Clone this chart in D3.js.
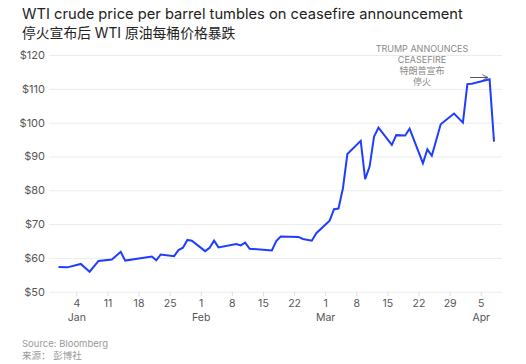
<!DOCTYPE html>
<html><head><meta charset="utf-8">
<script src="https://cdn.jsdelivr.net/npm/d3@7"></script>
<style>
body{margin:0;background:#fff;}
svg{display:block;font-family:Inter,"Noto Sans CJK SC",sans-serif;}
</style></head>
<body><svg id="c" width="526" height="364"></svg>
<script>
const dates = ["2025-12-31","2026-01-02","2026-01-05","2026-01-07","2026-01-09","2026-01-12","2026-01-14","2026-01-15","2026-01-21","2026-01-22","2026-01-23","2026-01-26","2026-01-27","2026-01-28","2026-01-29","2026-01-30","2026-02-02","2026-02-03","2026-02-04","2026-02-05","2026-02-09","2026-02-10","2026-02-11","2026-02-12","2026-02-17","2026-02-18","2026-02-19","2026-02-23","2026-02-24","2026-02-26","2026-02-27","2026-03-02","2026-03-03","2026-03-04","2026-03-05","2026-03-06","2026-03-09","2026-03-10","2026-03-11","2026-03-12","2026-03-13","2026-03-16","2026-03-17","2026-03-19","2026-03-20","2026-03-23","2026-03-24","2026-03-25","2026-03-27","2026-03-30","2026-04-01","2026-04-02","2026-04-03","2026-04-07","2026-04-08"];
const prices = [57.3,57.2,58.2,55.9,59.1,59.5,61.8,59.2,60.4,59.3,61.0,60.5,62.3,63.0,65.3,65.1,62.0,63.0,65.1,63.1,64.1,63.7,64.5,62.7,62.2,65.0,66.3,66.2,65.6,65.1,67.3,71.0,74.4,74.6,80.6,90.7,94.6,83.3,87.0,95.9,98.5,93.4,96.3,96.2,98.2,88.0,92.1,90.2,99.5,102.7,100.0,111.4,111.5,112.8,94.4];
const yTicks = [50,60,70,80,90,100,110,120];
const xTickDates = ["2026-01-04","2026-01-11","2026-01-18","2026-01-25","2026-02-01","2026-02-08","2026-02-15","2026-02-22","2026-03-01","2026-03-08","2026-03-15","2026-03-22","2026-03-29","2026-04-05"];
const monthLabels = {"2026-01-04":"Jan","2026-02-01":"Feb","2026-03-01":"Mar","2026-04-05":"Apr"};
const titleLines = ["WTI crude price per barrel tumbles on ceasefire announcement","停火宣布后 WTI 原油每桶价格暴跌"];
const annotation = ["TRUMP ANNOUNCES","CEASEFIRE","特朗普宣布","停火"];
const sourceLines = ["Source: Bloomberg","来源： 彭博社"];

const parse = d3.utcParse("%Y-%m-%d");
const data = dates.map((d,i)=>({date:parse(d), v:prices[i]}));
const svg = d3.select("#c");

const x = d3.scaleUtc().domain([parse("2026-01-04"), parse("2026-04-05")]).range([76.3, 480.7]);
const y = d3.scaleLinear().domain([50,120]).range([291.7, 55]);

// title
svg.append("g").selectAll("text").data(titleLines).join("text")
  .attr("x",22).attr("y",(d,i)=>19+i*19)
  .attr("font-size",(d,i)=>i===0?14.7:13.8).attr("fill","#222")
  .text(d=>d);

// grid
const gy = svg.append("g").attr("transform","translate(49,0)")
  .call(d3.axisLeft(y).tickValues(yTicks).tickSize(-453).tickFormat(d=>"$"+d).tickPadding(4));
gy.select(".domain").remove();
gy.selectAll(".tick line").attr("stroke","#ebebeb").attr("stroke-width",1);
gy.selectAll(".tick text").attr("fill","#555").attr("font-size",11).attr("font-family","Inter,sans-serif");

// x axis
const gx = svg.append("g").attr("transform","translate(0,292)")
  .call(d3.axisBottom(x).tickValues(xTickDates.map(parse)).tickSize(4).tickPadding(4)
    .tickFormat(d3.utcFormat("%-d")));
gx.select(".domain").remove();
gx.selectAll(".tick line").attr("stroke","#ddd");
gx.selectAll(".tick text").attr("fill","#555").attr("font-size",10.5).attr("font-family","Inter,sans-serif");
gx.selectAll(".tick").each(function(d){
  const k = d3.utcFormat("%Y-%m-%d")(d);
  if(monthLabels[k]) d3.select(this).append("text").attr("y",22).attr("dy","0.71em")
    .attr("text-anchor","middle").attr("fill","#555").attr("font-size",10.5)
    .attr("font-family","Inter,sans-serif").text(monthLabels[k]);
});

// line
svg.append("path").datum(data)
  .attr("fill","none").attr("stroke","#1f3dff").attr("stroke-width",2).attr("stroke-linejoin","miter")
  .attr("d", d3.line().x(d=>x(d.date)).y(d=>y(d.v)));

// annotation
svg.append("g").selectAll("text").data(annotation).join("text")
  .attr("x",422).attr("y",(d,i)=>52+i*11).attr("text-anchor","middle")
  .attr("font-size",9).attr("fill","#8a8a8a").text(d=>d);
svg.append("defs").append("marker").attr("id","ah").attr("viewBox","0 0 10 10")
  .attr("refX",9).attr("refY",5).attr("markerWidth",7).attr("markerHeight",7).attr("orient","auto")
  .append("path").attr("d","M1,1L9,5L1,9").attr("fill","none").attr("stroke","#555").attr("stroke-width",1.3);
svg.append("line").attr("x1",470).attr("x2",488).attr("y1",77.5).attr("y2",77.5)
  .attr("stroke","#555").attr("stroke-width",1).attr("marker-end","url(#ah)");

// source
svg.append("g").selectAll("text").data(sourceLines).join("text")
  .attr("x",22).attr("y",(d,i)=>347+i*12).attr("font-size",9.5).attr("fill","#999").text(d=>d);
</script></body></html>
